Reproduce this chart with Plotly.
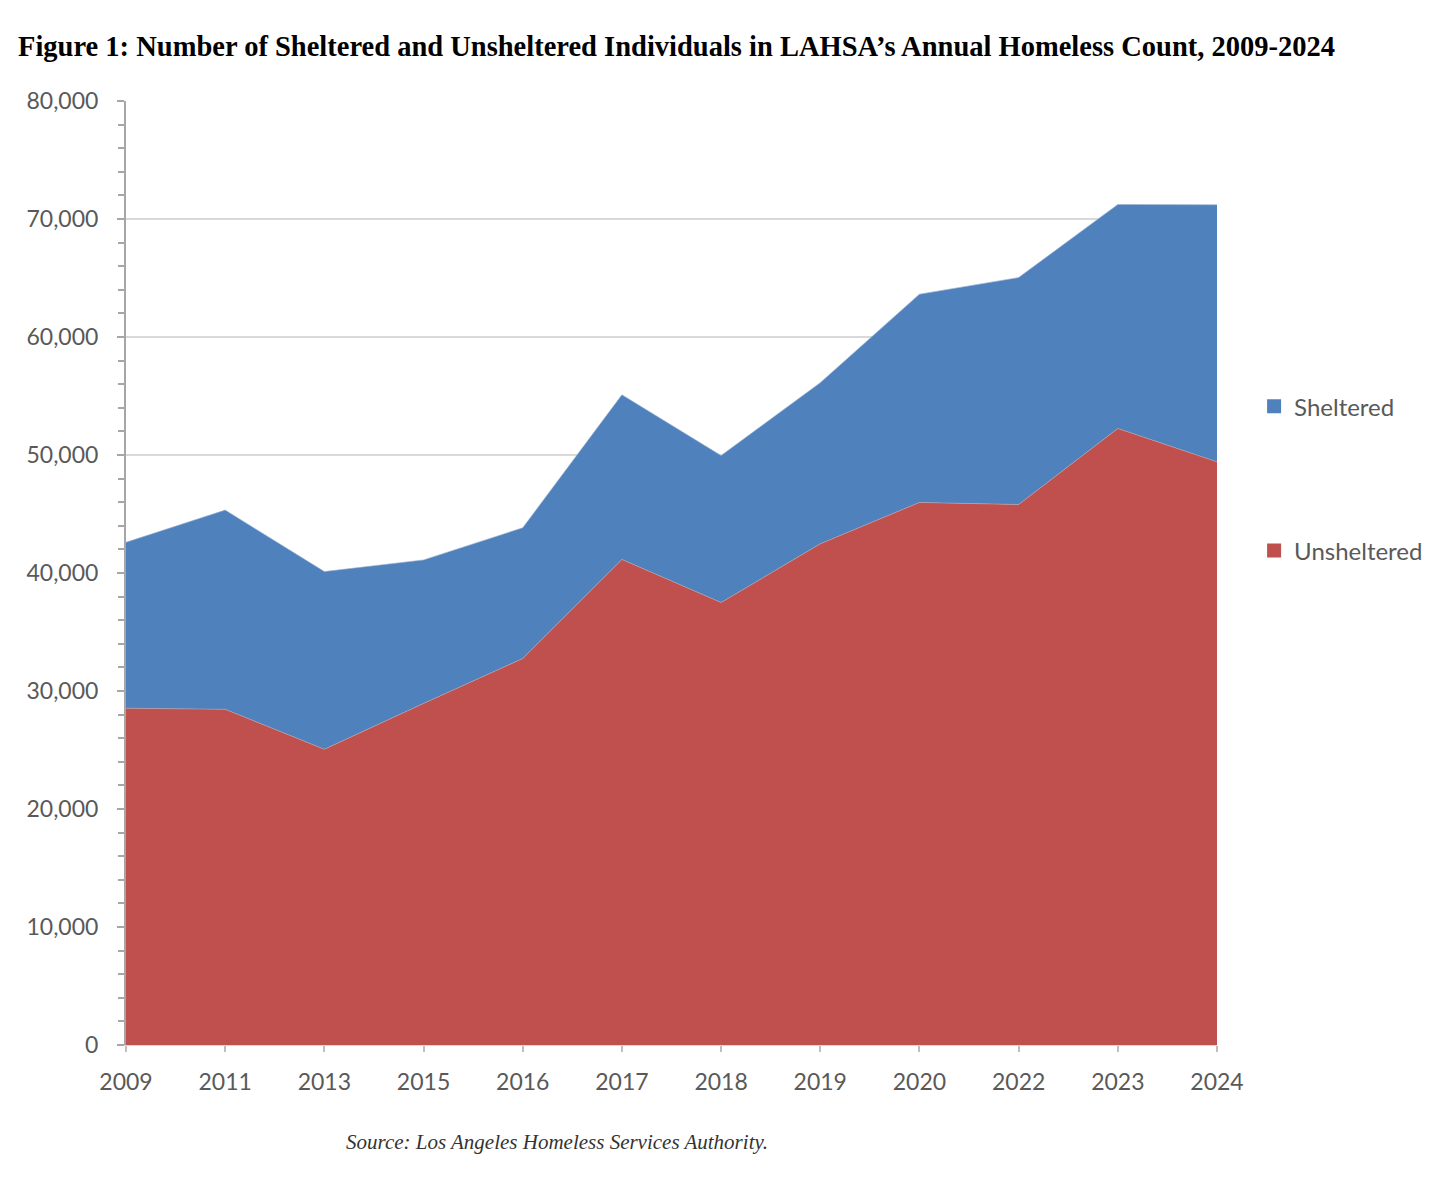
import plotly.graph_objects as go

# LAHSA annual count
years = ["2009", "2011", "2013", "2015", "2016", "2017",
         "2018", "2019", "2020", "2022", "2023", "2024"]
unsheltered = [28540, 28450, 25060, 28950, 32750, 41150,
               37500, 42470, 45980, 45800, 52250, 49420]
sheltered = [14060, 16880, 15060, 12160, 11080, 13950,
             12450, 13660, 17650, 19240, 18980, 21780]

y_ticks = list(range(0, 80001, 10000))
y_tick_text = ["0"] + [f"{v:,}" for v in y_ticks[1:]]

RED = "#c0504d"
BLUE = "#4f81bd"

fig = go.Figure()

# stacked areas, unsheltered at the bottom (legend handled by the bars below)
fig.add_trace(go.Scatter(
    x=years, y=unsheltered, name="Unsheltered",
    stackgroup="one", mode="lines",
    line=dict(width=0.6, color="#c9a0a0"),
    fillcolor=RED, showlegend=False,
))
fig.add_trace(go.Scatter(
    x=years, y=sheltered, name="Sheltered",
    stackgroup="one", mode="lines",
    line=dict(width=0.6, color="#9ab0cf"),
    fillcolor=BLUE, showlegend=False,
))

# empty bar traces just to get square legend keys, sheltered listed first
fig.add_trace(go.Bar(x=[None], y=[None], name="Sheltered",
                     marker=dict(color=BLUE, line=dict(color=BLUE, width=2)),
                     legendgroup="s"))
fig.add_trace(go.Bar(x=[None], y=[None], name="Unsheltered",
                     marker=dict(color=RED, line=dict(color=RED, width=2)),
                     legendgroup="u"))

fig.update_layout(
    width=1440, height=1192,
    margin=dict(l=118, r=231, t=93, b=155),
    paper_bgcolor="white", plot_bgcolor="white",
    font=dict(family="Lato", size=22, color="#595959"),
    showlegend=True,
    legend=dict(
        x=1.034, y=0.70, xanchor="left", yanchor="top",
        traceorder="grouped", tracegroupgap=110,
        font=dict(size=24, color="#595959"),
        itemwidth=30,
    ),
    title=dict(
        text="<b>Figure 1: Number of Sheltered and Unsheltered Individuals in LAHSA’s Annual Homeless Count, 2009-2024</b>",
        x=10 / 1440, xref="container", xanchor="left",
        y=1 - 38 / 1192, yref="container", yanchor="middle",
        font=dict(family="Liberation Serif", size=28.5, color="black"),
    ),
)

fig.update_xaxes(
    type="category", range=[0, len(years) - 1],
    showgrid=False, showline=True, linecolor="#d9d9d9", linewidth=1,
    ticks="outside", ticklen=6, tickcolor="#bfbfbf", tickwidth=1.5,
    ticklabelstandoff=10,
    tickfont=dict(size=23, color="#595959"),
)
fig.update_yaxes(
    range=[0, 80000], tickvals=y_ticks, ticktext=y_tick_text,
    showgrid=True, gridcolor="#d9d9d9", gridwidth=1.5,
    showline=True, linecolor="#a6a6a6", linewidth=2,
    ticks="outside", ticklen=7, tickcolor="#a6a6a6", tickwidth=1.5,
    minor=dict(dtick=2000, ticks="outside", ticklen=6,
               tickcolor="#a6a6a6", tickwidth=1.5, showgrid=False),
    zeroline=False, ticklabelstandoff=14,
    tickfont=dict(size=23, color="#595959"),
)

fig.add_annotation(
    text="<i>Source: Los Angeles Homeless Services Authority.</i>",
    xref="paper", yref="paper", x=(557 - 126) / 1091, y=-(1142 - 1045) / 944,
    xanchor="center", yanchor="middle", showarrow=False,
    font=dict(family="Liberation Serif", size=21, color="#333333"),
)

fig.write_html("out.html")
